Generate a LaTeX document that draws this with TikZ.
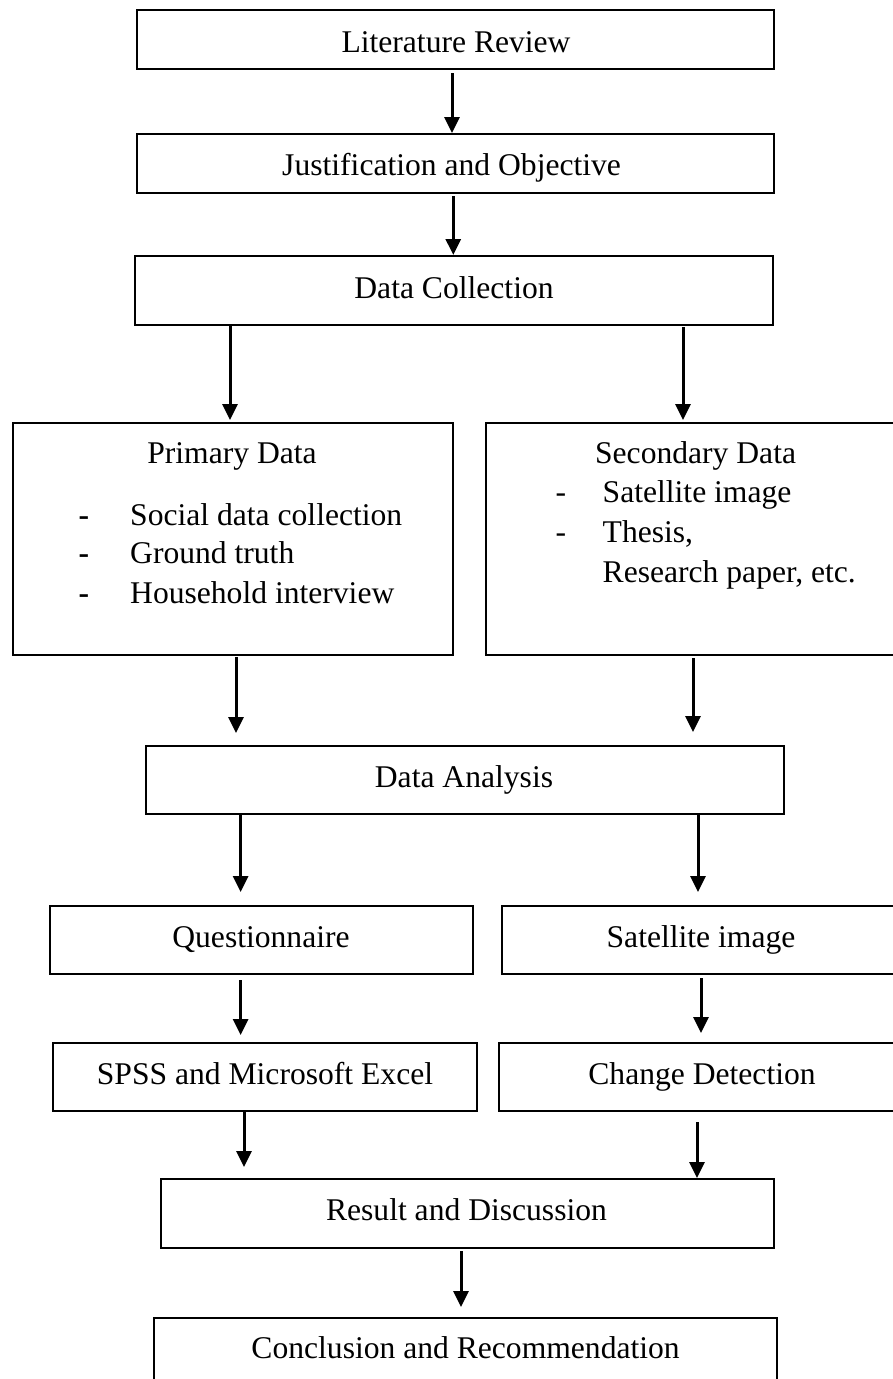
\documentclass[tikz,border=0pt]{standalone}
\usepackage{fontspec}
\setmainfont{Liberation Serif}
\usetikzlibrary{arrows.meta,calc}
\begin{document}
\begin{tikzpicture}[x=1pt,y=-1pt,
  box/.style={draw,line width=2pt,inner sep=0pt,outer sep=0pt,rectangle},
  lbl/.style={anchor=base,inner sep=0pt,font=\fontsize{31.6pt}{38pt}\selectfont},
  lbll/.style={anchor=base west,inner sep=0pt,font=\fontsize{31.6pt}{38pt}\selectfont},
  arr/.style={line width=3pt,-{Triangle[width=15pt,length=16pt]}}]
\useasboundingbox (0,0) rectangle (893,1379);
\clip (0,0) rectangle (893,1379);

% boxes
\node[box,minimum width=637pt,minimum height=59pt] (lit)   at (455.5,39.5) {};
\node[box,minimum width=637pt,minimum height=59pt] (just)  at (455.5,163.5) {};
\node[box,minimum width=638pt,minimum height=69pt] (dc)    at (454,290.5) {};
\node[box,minimum width=440pt,minimum height=232pt] (prim) at (232.6,539) {};
\node[box,minimum width=419pt,minimum height=232pt] (sec)  at (695.5,539) {};
\node[box,minimum width=638pt,minimum height=68pt] (da)    at (465,780) {};
\node[box,minimum width=423pt,minimum height=68pt] (quest) at (261.5,940) {};
\node[box,minimum width=398pt,minimum height=68pt] (sat)   at (701,940) {};
\node[box,minimum width=424pt,minimum height=68pt] (spss)  at (265,1077) {};
\node[box,minimum width=406pt,minimum height=68pt] (cd)    at (702,1077) {};
\node[box,minimum width=613pt,minimum height=69pt] (res)   at (467.5,1213.5) {};
\node[box,minimum width=623pt,minimum height=70pt] (conc)  at (465,1353) {};

% texts
\node[lbl] (tlit)   at (456,52)    {Literature Review};
\node[lbl] (tjust)  at (451.6,175) {Justification and Objective};
\node[lbl] (tdc)    at (454,298)   {Data Collection};
\node[lbl] (tprim)  at (232,463)   {Primary Data};
\node[lbl] (pd1)    at (84,525)    {\bfseries -};
\node[lbl] (pd2)    at (84,563)    {\bfseries -};
\node[lbl] (pd3)    at (84,603)    {\bfseries -};
\node[lbll] (pt1)   at (130,525)   {Social data collection};
\node[lbll] (pt2)   at (130,563)   {Ground truth};
\node[lbll] (pt3)   at (130,603)   {Household interview};
\node[lbl] (tsec)   at (695.6,463) {Secondary Data};
\node[lbl] (sd1)    at (561,502)   {-};
\node[lbl] (sd2)    at (561,542)   {-};
\node[lbll] (st1)   at (602.5,502) {Satellite image};
\node[lbll] (st2)   at (602.5,542) {Thesis,};
\node[lbll] (st3)   at (602.5,582) {Research paper, etc.};
\node[lbl] (tda)    at (464,787)   {Data Analysis};
\node[lbl] (tq)     at (261,947)   {Questionnaire};
\node[lbl] (tsat)   at (701,947)   {Satellite image};
\node[lbl] (tspss)  at (265,1084)  {SPSS and Microsoft Excel};
\node[lbl] (tcd)    at (702,1084)  {Change Detection};
\node[lbl] (tres)   at (466.5,1220) {Result and Discussion};
\node[lbl] (tconc)  at (465.6,1358) {Conclusion and Recommendation};

% arrows
\draw[arr] ($(lit.south)+(-3.5,4)$)   -- ($(just.north)+(-3.5,-1)$);
\draw[arr] ($(just.south)+(-2.2,3)$)  -- ($(dc.north)+(-0.7,-1)$);
\draw[arr] ($(dc.south)+(-224,1)$)    -- ($(prim.north)+(-2.6,-3)$);
\draw[arr] ($(dc.south)+(229,2)$)     -- ($(sec.north)+(-12.5,-3)$);
\draw[arr] ($(prim.south)+(3.4,2)$)   -- ($(da.north)+(-229,-13)$);
\draw[arr] ($(sec.south)+(-2.5,3)$)   -- ($(da.north)+(228,-14)$);
\draw[arr] ($(da.south)+(-224.4,1)$)  -- ($(quest.north)+(-20.9,-14)$);
\draw[arr] ($(da.south)+(233,1)$)     -- ($(sat.north)+(-3,-14)$);
\draw[arr] ($(quest.south)+(-20.9,6)$) -- ($(spss.north)+(-24.4,-8)$);
\draw[arr] ($(sat.south)+(0,4)$)      -- ($(cd.north)+(-1,-10)$);
\draw[arr] ($(spss.south)+(-21,1)$)   -- ($(res.north)+(-223.5,-12)$);
\draw[arr] ($(cd.south)+(-5,11)$)     -- ($(res.north)+(229.5,-1)$);
\draw[arr] ($(res.south)+(-6.5,3)$)   -- ($(conc.north)+(-4,-11)$);
\end{tikzpicture}
\end{document}
